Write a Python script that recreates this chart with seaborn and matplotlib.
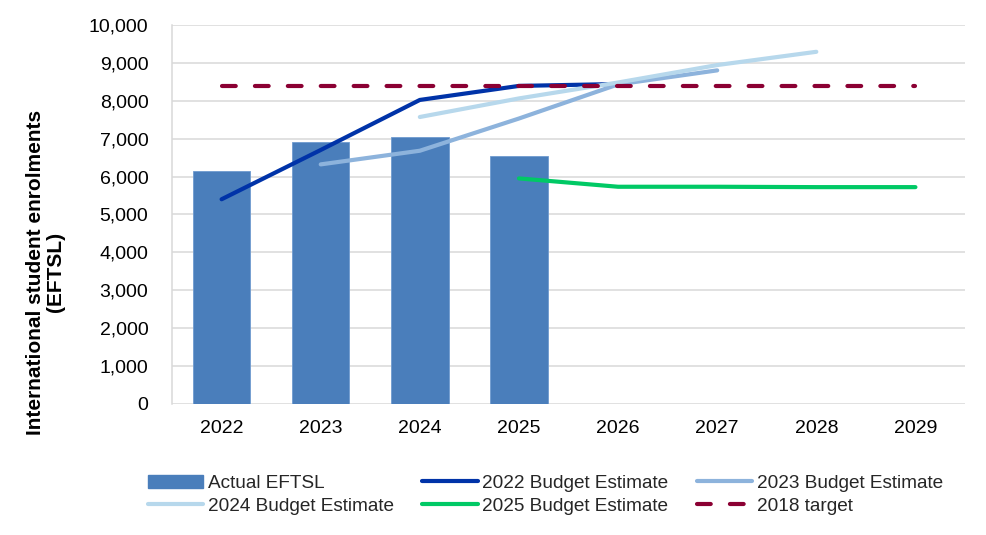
import numpy as np
import pandas as pd
import matplotlib
matplotlib.use("Agg")
import matplotlib.pyplot as plt
import seaborn as sns
from matplotlib.ticker import FuncFormatter
from matplotlib.lines import Line2D
from matplotlib.patches import Patch

years = [2022, 2023, 2024, 2025, 2026, 2027, 2028, 2029]
actual = [6150, 6900, 7050, 6530, np.nan, np.nan, np.nan, np.nan]
be2022 = [5400, 6700, 8020, 8390, 8440, np.nan, np.nan, np.nan]
be2023 = [np.nan, 6320, 6680, 7530, 8430, 8800, np.nan, np.nan]
be2024 = [np.nan, np.nan, 7570, 8060, 8480, 8940, 9290, np.nan]
be2025 = [np.nan, np.nan, np.nan, 5950, 5730, 5730, 5720, 5720]
target = [8400, 8400, 8400, 8400, 8400, 8400, 8400, 8400]

sns.set_theme(style="white")
plt.rcParams['font.family'] = ['Liberation Sans', 'DejaVu Sans']

fig = plt.figure(figsize=(9.87, 5.35), dpi=100)
ax = fig.add_axes([0.1743, 0.2449, 0.8034, 0.7086])

df = pd.DataFrame({"year": years, "Actual EFTSL": actual,
                   "2022 Budget Estimate": be2022,
                   "2023 Budget Estimate": be2023,
                   "2024 Budget Estimate": be2024,
                   "2025 Budget Estimate": be2025,
                   "2018 target": target})

bar_color = "#4A7EBB"
sns.barplot(data=df.dropna(subset=["Actual EFTSL"]), x="year", y="Actual EFTSL",
            native_scale=True, width=0.58, color=bar_color, saturation=1,
            edgecolor="#6f9bd0", linewidth=0.6, ax=ax, zorder=2)

series = [("2022 Budget Estimate", "#0033A8"),
          ("2023 Budget Estimate", "#8DB3DC"),
          ("2024 Budget Estimate", "#B7D8EC"),
          ("2025 Budget Estimate", "#00C965")]
lw = 3.0
dash = [3.3, 4.6]
for name, col in series:
    sub = df.dropna(subset=[name])
    sns.lineplot(data=sub, x="year", y=name, color=col, lw=lw, ax=ax,
                 solid_capstyle="round", zorder=3)
sns.lineplot(data=df, x="year", y="2018 target", color="#8B0033", lw=lw, ax=ax,
             zorder=4)
ax.lines[-1].set_dashes(dash)
ax.lines[-1].set_dash_capstyle("round")

ax.set_xlim(2021.5, 2029.5)
ax.set_ylim(0, 10000)
ax.set_yticks(np.arange(0, 10001, 1000))
ax.yaxis.set_major_formatter(FuncFormatter(lambda v, p: f"{int(v):,}"))
ax.set_xticks(years)
ax.set_xticklabels([str(y) for y in years])
ax.grid(axis="y", color="#d9d9d9", lw=1.1, zorder=0)
ax.set_axisbelow(True)
for s in ["top", "right", "bottom"]:
    ax.spines[s].set_visible(False)
ax.spines["left"].set_color("#d9d9d9")
ax.spines["left"].set_linewidth(1.1)
ax.tick_params(axis="y", length=0, labelsize=14, pad=17, labelcolor="#000000")
ax.tick_params(axis="x", length=0, labelsize=14, pad=11.5, labelcolor="#000000")
ax.set_xlabel("")
ax.set_ylabel("International student enrolments\n(EFTSL)", fontsize=15,
              fontweight="bold", color="#000000", linespacing=1.05)
ax.yaxis.set_label_coords(-0.160, 0.348)
ax.yaxis.label.set_va("center")

handles = [Patch(facecolor=bar_color, edgecolor=bar_color),
           Line2D([], [], color="#B7D8EC", lw=lw, solid_capstyle="round"),
           Line2D([], [], color="#0033A8", lw=lw, solid_capstyle="round"),
           Line2D([], [], color="#00C965", lw=lw, solid_capstyle="round"),
           Line2D([], [], color="#8DB3DC", lw=lw, solid_capstyle="round"),
           Line2D([], [], color="#8B0033", lw=lw, dashes=dash,
                  dash_capstyle="round")]
labels = ["Actual EFTSL", "2024 Budget Estimate", "2022 Budget Estimate",
          "2025 Budget Estimate", "2023 Budget Estimate", "2018 target"]
fig.legend(handles, labels, ncol=3, loc="center", bbox_to_anchor=(0.5527, 0.075),
           frameon=False, fontsize=13.7, handlelength=2.9, handletextpad=0.26,
           columnspacing=1.47, labelspacing=0.3, borderpad=0)

fig.savefig("out.png", dpi=100)
